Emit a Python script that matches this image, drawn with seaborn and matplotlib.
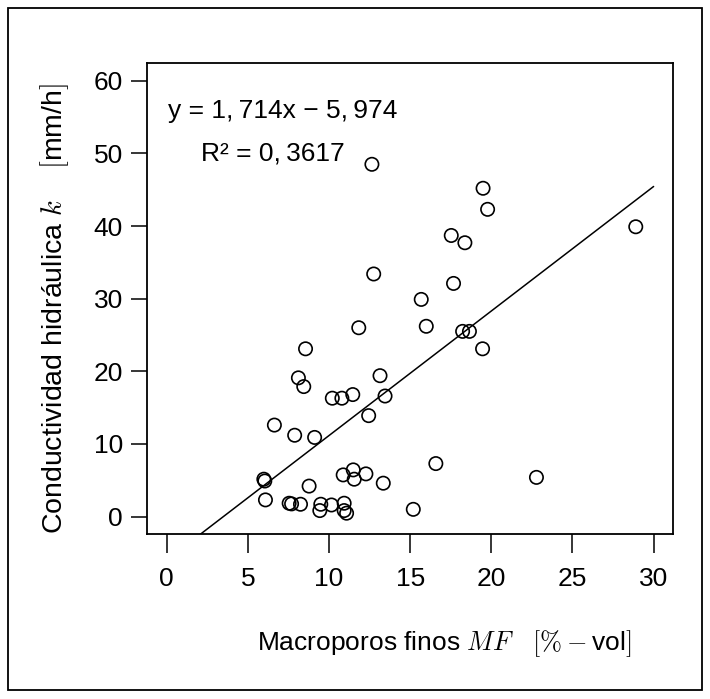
import numpy as np
import pandas as pd
import matplotlib
matplotlib.use("Agg")
import matplotlib.pyplot as plt
import seaborn as sns
from matplotlib.patches import Rectangle

# ---- data ----
mf = [12.64, 19.49, 19.77, 28.9, 17.53, 18.37, 12.75, 17.67, 15.68, 15.99,
      11.83, 18.23, 18.65, 8.55, 19.46, 8.11, 13.14, 8.44, 11.46, 13.45,
      10.2, 10.79, 12.44, 6.63, 7.88, 9.11, 16.58, 11.49, 10.87, 12.27,
      11.55, 13.34, 22.78, 5.98, 6.04, 8.77, 6.08, 7.54, 7.69, 8.24,
      9.49, 10.15, 10.93, 9.43, 10.93, 11.08, 15.19]
k = [48.5, 45.2, 42.3, 39.9, 38.7, 37.7, 33.4, 32.1, 29.9, 26.2,
     26.0, 25.5, 25.5, 23.1, 23.1, 19.1, 19.4, 17.9, 16.8, 16.6,
     16.3, 16.3, 13.9, 12.6, 11.2, 10.9, 7.3, 6.43, 5.74, 5.88,
     5.15, 4.6, 5.4, 5.15, 4.9, 4.2, 2.3, 1.84, 1.75, 1.7,
     1.7, 1.6, 1.84, 0.83, 0.83, 0.47, 1.0]
slope = 1.714
intercept = -5.974
fit_x = [0, 30]
x_ticks = [0, 5, 10, 15, 20, 25, 30]
y_ticks = [0, 10, 20, 30, 40, 50, 60]
eq_text = "y = 1,\u2009714x \u2212 5,\u2009974"
r2_text = "R\u00b2 = 0,\u20093617"

df = pd.DataFrame({"MF": mf, "k": k})
fit = pd.DataFrame({"x": fit_x, "y": [slope * v + intercept for v in fit_x]})

sns.set_style("white")
plt.rcParams["font.family"] = ["Liberation Sans", "DejaVu Sans"]
plt.rcParams["mathtext.fontset"] = "cm"
for key in ["text.color", "axes.labelcolor", "xtick.color", "ytick.color", "axes.edgecolor"]:
    plt.rcParams[key] = "black"

fs = 19
fig = plt.figure(figsize=(7.10, 6.99), dpi=100)
ax = fig.add_axes([0.2075, 0.236, 0.7405, 0.6734])

sns.scatterplot(data=df, x="MF", y="k", ax=ax, marker="o", s=92,
                facecolor="none", edgecolor="black", linewidth=1.2, legend=False)
sns.lineplot(data=fit, x="x", y="y", ax=ax, color="black", linewidth=1.1)

ax.set_xlim(-1.2, 31.2)
ax.set_ylim(-2.4, 62.4)
ax.set_xticks(x_ticks)
ax.set_yticks(y_ticks)
ax.tick_params(axis="x", direction="out", length=14, width=1.1, labelsize=fs, pad=10,
               bottom=True, colors="black")
ax.tick_params(axis="y", direction="out", length=11.5, width=1.1, labelsize=fs, pad=6,
               left=True, colors="black")
for s in ax.spines.values():
    s.set_linewidth(1.3)
    s.set_color("black")

ax.set_xlabel(r"Macroporos finos $MF\quad[\%-$vol$]$", fontsize=fs, color="black")
ax.set_ylabel(r"Conductividad hidráulica $k\quad\;[$mm/h$]$", fontsize=20.5, color="black")
ax.xaxis.set_label_coords(0.565, -0.2)
ax.yaxis.set_label_coords(-0.145, 0.48)

ax.text(0.1, 55.9, eq_text, fontsize=fs, ha="left", va="center", color="black")
ax.text(2.1, 50.0, r2_text, fontsize=fs, ha="left", va="center", color="black")

fig.patches.append(Rectangle((8 / 710, 9 / 699), 694 / 710, 682 / 699,
                             transform=fig.transFigure, fill=False,
                             edgecolor="black", linewidth=1.3))

fig.savefig("out.png", dpi=100)
